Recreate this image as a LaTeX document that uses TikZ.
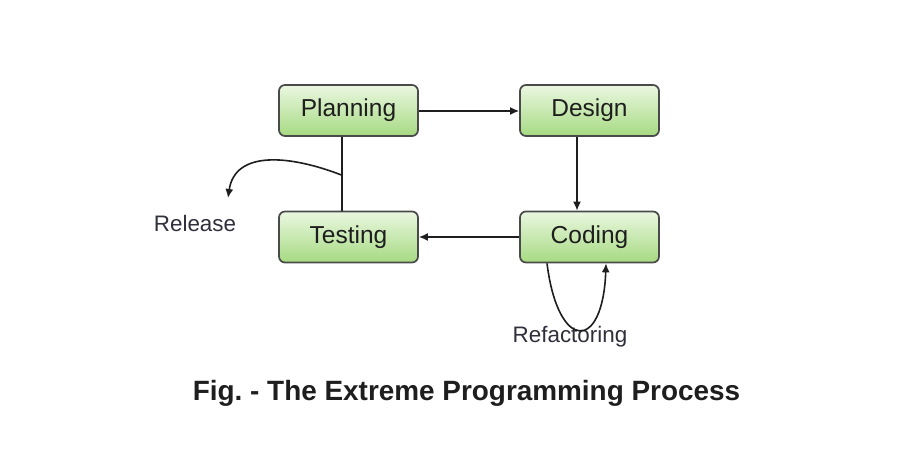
\documentclass[tikz,border=0pt]{standalone}
\usepackage{fontspec}
\setmainfont{Liberation Sans}
\usetikzlibrary{arrows.meta,calc}
\definecolor{boxtop}{HTML}{EAF7E0}
\definecolor{boxbot}{HTML}{A6DA82}
\definecolor{edge}{HTML}{4A4A4A}
\definecolor{ink}{HTML}{1E1E1E}
\definecolor{lbl}{HTML}{30303C}
\tikzset{
  stage/.style={draw=edge, line width=1.7pt, rounded corners=6pt,
    minimum width=139pt, minimum height=51pt, inner sep=0pt,
    top color=boxtop, bottom color=boxbot, text=ink,
    font=\fontsize{24.5}{28}\selectfont},
  conn/.style={draw=ink, line width=1.6pt},
  arr/.style={conn, -{Latex[length=9pt,width=8pt]}},
  lab/.style={text=lbl, font=\fontsize{22.4}{26}\selectfont, inner sep=0pt},
}
\begin{document}
\begin{tikzpicture}[x=1pt,y=-1pt]
\useasboundingbox[fill=white] (0,0) rectangle (909,473);
\node[stage] (plan) at (348.5,110.5) {Planning};
\node[stage] (design) at (589.5,110.5) {Design};
\node[stage] (test) at (348.5,237) {Testing};
\node[stage] (code) at (589.5,237) {Coding};
\node[lab] (release) at (195,223) {Release};
\node[lab] (refac) at (570,337) {Refactoring};
\node[text=ink, font=\bfseries\fontsize{27.9}{32}\selectfont, inner sep=0pt] (cap) at (466.5,393) {\frenchspacing Fig. - The Extreme Programming Process};

\draw[arr] ([yshift=-0.5pt]plan.east) -- ([yshift=-0.5pt]design.west);
\draw[arr] ([xshift=-12.5pt]design.south) -- ([xshift=-12.5pt]code.north);
\draw[arr] (code.west) -- (test.east);
\draw[conn] ([xshift=-6.5pt]plan.south) -- ([xshift=-6.5pt]test.north);
\coordinate (relstart) at ($([xshift=-6.5pt]plan.south)!0.52!([xshift=-6.5pt]test.north)$);
\coordinate (reltip) at (228,198);
\draw[arr] (relstart) .. controls (290,155) and (235,150) .. (reltip);
\draw[arr] ([xshift=-42.5pt]code.south) .. controls (558,352) and (603,352) .. ([xshift=16.5pt]code.south);
\end{tikzpicture}
\end{document}
